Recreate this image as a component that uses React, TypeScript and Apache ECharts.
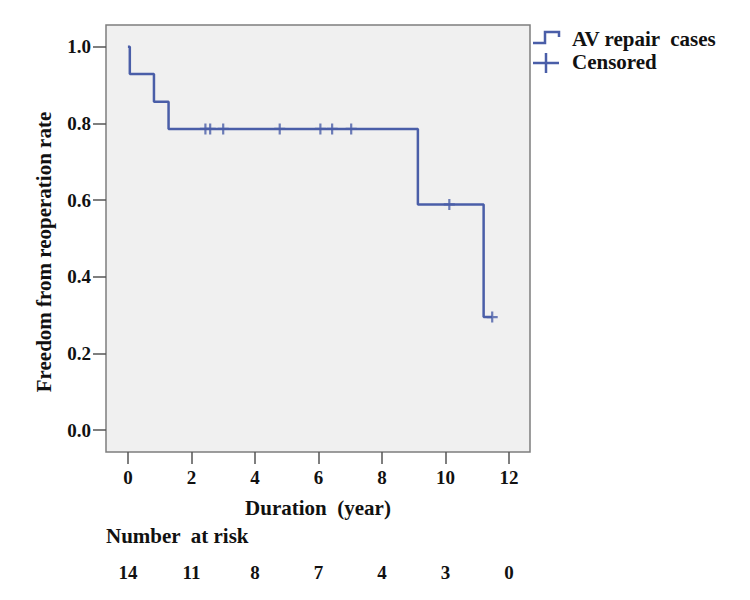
import React, { useEffect, useRef } from "react";
import * as echarts from "echarts";

const kmTimes = [0, 0.06, 0.82, 1.28, 9.13, 11.2, 11.47];
const kmSurvival = [1.0, 0.929, 0.857, 0.786, 0.589, 0.295, 0.295];
const censorTimes = [2.44, 2.59, 3.0, 4.78, 6.06, 6.43, 7.03, 10.12, 11.47];
const censorSurvival = [0.786, 0.786, 0.786, 0.786, 0.786, 0.786, 0.786, 0.589, 0.295];
const xTicks = [0, 2, 4, 6, 8, 10, 12];
const yTicks = [0, 0.2, 0.4, 0.6, 0.8, 1.0];
const atRisk = [14, 11, 8, 7, 4, 3, 0];

const BLUE = "#4a5ea8";
const FONT = "'Liberation Serif', 'Times New Roman', serif";
const PLUS = "path://M4,0H6V4H10V6H6V10H4V6H0V4H4Z";

export default function App() {
  const ref = useRef<HTMLDivElement>(null);
  useEffect(() => {
    const chart = echarts.init(ref.current!, null, { renderer: "svg" });
    const xMin = -0.69;
    const xMax = 12.66;
    chart.setOption({
      animation: false,
      backgroundColor: "#ffffff",
      textStyle: { fontFamily: FONT },
      grid: [
        {
          left: 106, right: 220, top: 25, bottom: 148,
          show: true, backgroundColor: "#f0f0f0", borderColor: "#7d7d7d", borderWidth: 1.5,
        },
        { left: 106, right: 220, top: 562, height: 1 },
      ],
      xAxis: [
        {
          type: "value", gridIndex: 0, min: xMin, max: xMax,
          name: "Duration  (year)", nameLocation: "middle", nameGap: 45,
          nameTextStyle: { fontFamily: FONT, fontWeight: "bold", fontSize: 21, color: "#111" },
          axisLine: { show: false, onZero: false },
          splitLine: { show: false },
          axisTick: { show: true, length: 12, customValues: xTicks, lineStyle: { color: "#555", width: 1.5 } },
          axisLabel: {
            customValues: xTicks, margin: 16, fontFamily: FONT, fontWeight: "bold",
            fontSize: 19, color: "#111", formatter: (v: number) => String(v),
          },
        },
        {
          type: "value", gridIndex: 1, min: xMin, max: xMax,
          axisLine: { show: false, onZero: false }, splitLine: { show: false }, axisTick: { show: false },
          axisLabel: {
            customValues: xTicks, margin: 0, fontFamily: FONT, fontWeight: "bold",
            fontSize: 19, color: "#111",
            formatter: (v: number) => String(atRisk[xTicks.indexOf(v)]),
          },
        },
      ],
      yAxis: [
        {
          type: "value", gridIndex: 0, min: -0.057, max: 1.057,
          axisLine: { show: false, onZero: false },
          splitLine: { show: false },
          axisTick: { show: true, length: 13, customValues: yTicks, lineStyle: { color: "#555", width: 1.5 } },
          axisLabel: {
            customValues: yTicks, margin: 15, fontFamily: FONT, fontWeight: "bold",
            fontSize: 19, color: "#111", formatter: (v: number) => v.toFixed(1),
          },
        },
        { type: "value", gridIndex: 1, show: false, min: 0, max: 1 },
      ],
      series: [
        {
          name: "AV repair cases", type: "line", xAxisIndex: 0, yAxisIndex: 0,
          step: "end", showSymbol: false, symbol: "none",
          lineStyle: { color: BLUE, width: 2.5 },
          data: kmTimes.map((t, i) => [t, kmSurvival[i]]),
          z: 2,
        },
        {
          name: "Censored", type: "scatter", xAxisIndex: 0, yAxisIndex: 0,
          symbol: PLUS, symbolSize: [11, 11],
          itemStyle: { color: BLUE },
          data: censorTimes.map((t, i) => [t, censorSurvival[i]]),
          z: 3,
        },
      ],
      graphic: [
        {
          type: "polyline", shape: { points: [[533, 43], [545, 43], [545, 32], [559, 32], [559, 37]] },
          style: { stroke: BLUE, lineWidth: 2.5, fill: null },
        },
        { type: "line", shape: { x1: 533, y1: 63, x2: 559, y2: 63 }, style: { stroke: BLUE, lineWidth: 2.5 } },
        { type: "line", shape: { x1: 546, y1: 53, x2: 546, y2: 73 }, style: { stroke: BLUE, lineWidth: 2.5 } },
        {
          type: "text", x: 572, y: 39,
          style: { text: "AV repair  cases", font: `bold 21px ${FONT}`, fill: "#111", verticalAlign: "middle" },
        },
        {
          type: "text", x: 572, y: 62,
          style: { text: "Censored", font: `bold 21px ${FONT}`, fill: "#111", verticalAlign: "middle" },
        },
        {
          type: "text", x: 106, y: 536,
          style: { text: "Number  at risk", font: `bold 21px ${FONT}`, fill: "#111", verticalAlign: "middle" },
        },
        {
          type: "text", x: 44, y: 252, rotation: Math.PI / 2,
          style: {
            text: "Freedom from reoperation rate", font: `bold 21px ${FONT}`, fill: "#111",
            align: "center", verticalAlign: "middle",
          },
        },
      ],
    });
    return () => chart.dispose();
  }, []);
  return <div ref={ref} style={{ width: 750, height: 600, margin: -8 }} />;
}
